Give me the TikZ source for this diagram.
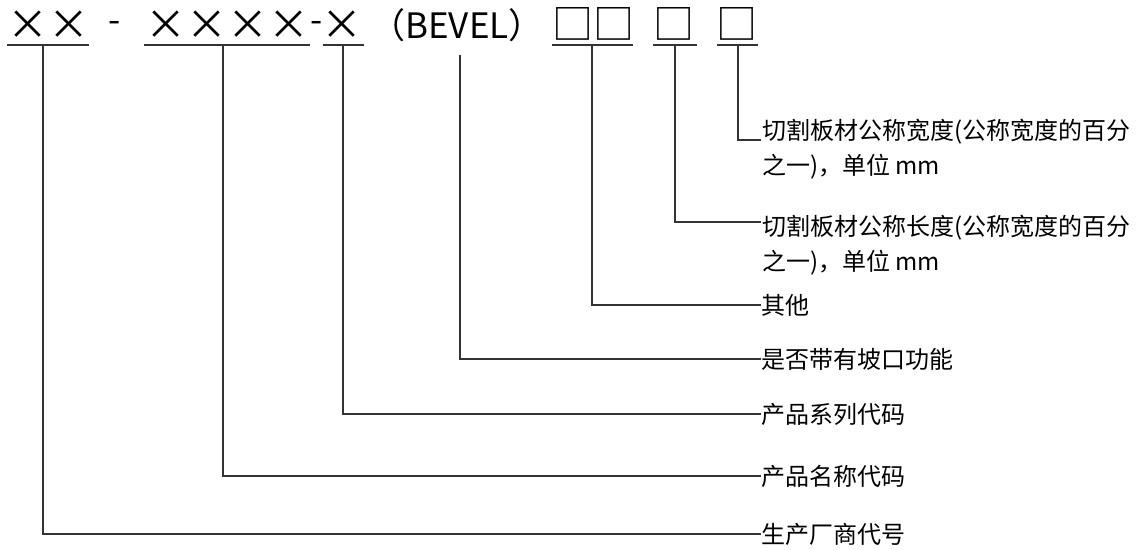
\documentclass[tikz,border=0pt]{standalone}
\usepackage{fontspec}
\newfontfamily\cjk{Noto Sans CJK SC}
\begin{document}
\begin{tikzpicture}[x=1pt,y=-1pt,
  code/.style={inner sep=0pt, font=\cjk\fontsize{35}{40}\selectfont, text=black},
  sym/.style={inner sep=0pt, font=\cjk\fontsize{41}{44}\selectfont, text=black},
  lab/.style={inner sep=0pt, font=\cjk\fontsize{24}{35}\selectfont, text=black, align=left},
  ul/.style={line width=1.6pt, draw=black!80},
  ln/.style={line width=1.4pt, draw=black!80}]
\useasboundingbox[fill=white] (0,0) rectangle (1147,549);
% top code row
\node[sym] (x1) at (48,25) {××};
\node[code] (d1) at (115,27) {-};
\node[sym] (x2) at (227,25) {××××};
\node[code] (d2) at (317,27) {-};
\node[sym] (x3) at (342,25) {×};
\node[code] (bv) at (457,25) {（BEVEL）};
\node[sym] (b1) at (593,24) {□□};
\node[sym] (b2) at (674,24) {□};
\node[sym] (b3) at (737,24) {□};
% underlines
\draw[ul] (7,45) -- (89,45);
\draw[ul] (144,45) -- (310,45);
\draw[ul] (323,45) -- (364,45);
\draw[ul] (552,45) -- (633,45);
\draw[ul] (653,45) -- (697,45);
\draw[ul] (717,45) -- (758,45);
% stub start points
\coordinate (s1) at (43,45);
\coordinate (s2) at (223,45);
\coordinate (s3) at (343,45);
\coordinate (s4) at (460,55);
\coordinate (s5) at (592,45);
\coordinate (s6) at (675,45);
\coordinate (s7) at (738,45);
% label end points
\coordinate (c7) at (761,140);
\coordinate (c6) at (761,222);
\coordinate (c5) at (761,305);
\coordinate (c4) at (761,359);
\coordinate (c3) at (761,414);
\coordinate (c2) at (761,476);
\coordinate (c1) at (761,534);
% labels
\node[lab, anchor=north west] (l7) at (762,119) {切割板材公称宽度(公称宽度的百分\\之一)，单位 mm};
\node[lab, anchor=north west] (l6) at (762,215) {切割板材公称长度(公称宽度的百分\\之一)，单位 mm};
\node[lab, anchor=west] (l5) at (c5) {其他};
\node[lab, anchor=west] (l4) at (c4) {是否带有坡口功能};
\node[lab, anchor=west] (l3) at (c3) {产品系列代码};
\node[lab, anchor=west] (l2) at (c2) {产品名称代码};
\node[lab, anchor=west] (l1) at (c1) {生产厂商代号};
% connectors
\draw[ln] (s1) |- (c1);
\draw[ln] (s2) |- (c2);
\draw[ln] (s3) |- (c3);
\draw[ln] (s4) |- (c4);
\draw[ln] (s5) |- (c5);
\draw[ln] (s6) |- (c6);
\draw[ln] (s7) |- (c7);
\end{tikzpicture}
\end{document}
